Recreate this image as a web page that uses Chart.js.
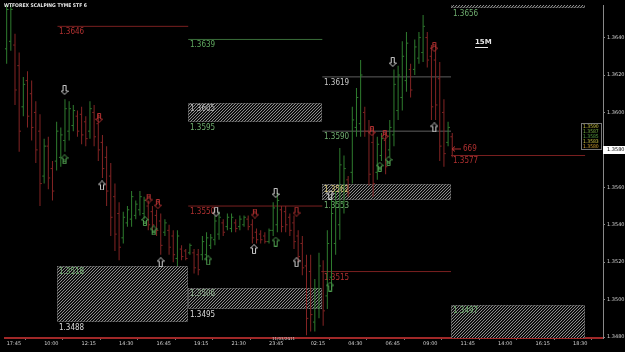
<!DOCTYPE html>
<html>
<head>
<meta charset="utf-8">
<script src="https://cdn.jsdelivr.net/npm/chart.js@4.4.1/dist/chart.umd.min.js"></script>
<style>
  html, body { margin: 0; padding: 0; background: #000; }
  #wrap { width: 625px; height: 352px; }
</style>
</head>
<body>
<div id="wrap"><canvas id="myChart" width="625" height="352"></canvas></div>
<script>
// 15분봉 OHLC
var highs = [1.3662,1.3660,1.3642,1.3632,1.3619,1.3622,1.3617,1.3606,1.3599,1.3586,
  1.3587,1.3574,1.3595,1.3592,1.3607,1.3606,1.3604,1.3601,1.3603,1.3598,
  1.3606,1.3604,1.3599,1.3588,1.3582,1.3573,1.3562,1.3552,1.3547,1.3550,
  1.3558,1.3553,1.3558,1.3555,1.3553,1.3550,1.3548,1.3546,1.3543,1.3540,
  1.3537,1.3537,1.3529,1.3527,1.3530,1.3527,1.3527,1.3534,1.3536,1.3535,
  1.3545,1.3547,1.3543,1.3546,1.3546,1.3543,1.3545,1.3545,1.3545,1.3543,
  1.3538,1.3537,1.3536,1.3538,1.3552,1.3557,1.3550,1.3550,1.3546,1.3545,
  1.3537,1.3534,1.3524,1.3524,1.3511,1.3525,1.3521,1.3537,1.3555,1.3558,
  1.3581,1.3577,1.3566,1.3603,1.3613,1.3628,1.3603,1.3596,1.3590,1.3587,
  1.3589,1.3589,1.3596,1.3623,1.3625,1.3638,1.3643,1.3626,1.3639,1.3643,
  1.3652,1.3643,1.3636,1.3636,1.3627,1.3607,1.3595,1.3589];
var lows = [1.3626,1.3633,1.3604,1.3579,1.3598,1.3592,1.3585,1.3573,1.3550,1.3562,
  1.3559,1.3553,1.3569,1.3571,1.3579,1.3585,1.3590,1.3587,1.3583,1.3582,
  1.3586,1.3582,1.3574,1.3565,1.3550,1.3534,1.3526,1.3521,1.3530,1.3539,
  1.3539,1.3543,1.3545,1.3543,1.3537,1.3537,1.3534,1.3524,1.3534,1.3524,
  1.3520,1.3518,1.3521,1.3521,1.3524,1.3514,1.3513,1.3521,1.3521,1.3527,
  1.3529,1.3532,1.3534,1.3537,1.3536,1.3536,1.3537,1.3539,1.3537,1.3530,
  1.3530,1.3530,1.3530,1.3530,1.3534,1.3536,1.3536,1.3536,1.3534,1.3527,
  1.3520,1.3513,1.3481,1.3483,1.3483,1.3490,1.3486,1.3495,1.3505,1.3524,
  1.3532,1.3546,1.3555,1.3562,1.3587,1.3587,1.3587,1.3561,1.3555,1.3564,
  1.3574,1.3567,1.3576,1.3582,1.3596,1.3601,1.3611,1.3608,1.3620,1.3626,
  1.3627,1.3624,1.3596,1.3596,1.3574,1.3571,1.3582,1.3576];
var opens = [1.3634,1.3638,1.3636,1.3625,1.3603,1.3617,1.3610,1.3600,1.3590,1.3566,
  1.3582,1.3570,1.3574,1.3576,1.3585,1.3590,1.3593,1.3598,1.3599,1.3595,
  1.3590,1.3600,1.3594,1.3584,1.3576,1.3566,1.3555,1.3546,1.3533,1.3541,
  1.3543,1.3545,1.3548,1.3546,1.3550,1.3547,1.3545,1.3542,1.3536,1.3537,
  1.3534,1.3522,1.3527,1.3526,1.3525,1.3525,1.3524,1.3524,1.3524,1.3529,
  1.3532,1.3535,1.3541,1.3539,1.3538,1.3541,1.3539,1.3540,1.3543,1.3540,
  1.3536,1.3535,1.3534,1.3531,1.3537,1.3540,1.3548,1.3547,1.3544,1.3541,
  1.3534,1.3530,1.3518,1.3515,1.3488,1.3496,1.3515,1.3502,1.3512,1.3530,
  1.3540,1.3552,1.3564,1.3568,1.3592,1.3594,1.3600,1.3590,1.3584,1.3568,
  1.3577,1.3585,1.3580,1.3588,1.3601,1.3608,1.3617,1.3623,1.3623,1.3629,
  1.3632,1.3640,1.3630,1.3628,1.3618,1.3600,1.3584,1.3587];
var closes = [1.3655,1.3655,1.3612,1.3590,1.3615,1.3598,1.3592,1.3580,1.3562,1.3582,
  1.3565,1.3558,1.3590,1.3588,1.3602,1.3602,1.3601,1.3590,1.3588,1.3586,
  1.3602,1.3587,1.3580,1.3570,1.3558,1.3544,1.3535,1.3528,1.3544,1.3548,
  1.3555,1.3551,1.3555,1.3553,1.3540,1.3540,1.3537,1.3529,1.3541,1.3528,
  1.3524,1.3534,1.3523,1.3522,1.3529,1.3517,1.3516,1.3531,1.3533,1.3533,
  1.3542,1.3544,1.3536,1.3544,1.3544,1.3538,1.3543,1.3544,1.3539,1.3533,
  1.3532,1.3532,1.3531,1.3537,1.3549,1.3553,1.3539,1.3540,1.3537,1.3531,
  1.3523,1.3517,1.3490,1.3492,1.3506,1.3518,1.3494,1.3530,1.3546,1.3552,
  1.3572,1.3570,1.3557,1.3596,1.3608,1.3620,1.3590,1.3567,1.3562,1.3583,
  1.3586,1.3571,1.3592,1.3615,1.3620,1.3630,1.3637,1.3612,1.3635,1.3640,
  1.3646,1.3628,1.3603,1.3604,1.3582,1.3578,1.3592,1.3580];

// 시간축 라벨
var timeTickIdx = [0, 9, 18, 27, 36, 45, 54, 63, 73, 82, 91, 100, 109, 118, 127, 136];
var timeLabels = ['17:45','10:00','12:15','14:30','16:45','19:15','21:30','23:45',
  '02:15','04:30','06:45','09:00','11:45','14:00','16:15','18:30'];

// 빗금 박스 (수급 존)
var zoneFrom = [12.2, 43.6, 43.6, 75.8, 106.7, 106.7];
var zoneTo   = [43.6, 75.8, 75.8, 106.7, 138.9, 138.9];
var zoneHi   = [1.3518, 1.3605, 1.3506, 1.3562, 1.3660, 1.3497];
var zoneLo   = [1.3488, 1.3595, 1.3495, 1.3553, 1.3656, 1.3478];
var zoneHiColor = ['#6fae6f', '#b8b8b8', '#8fb08f', '#d8c878', null, '#6fae6f'];
var zoneLoColor = ['#d8d8d8', '#6fae6f', '#d8d8d8', '#6fae6f', '#6fae6f', '#d8c060'];

// 수평 레벨선
var levelVal  = [1.3646, 1.3639, 1.3619, 1.3590, 1.3550, 1.3515, 1.3577];
var levelFrom = [12.2, 43.6, 75.8, 75.8, 43.6, 75.8, 106.7];
var levelTo   = [43.6, 75.8, 106.7, 106.7, 75.8, 106.7, 138.9];
var levelColor = ['#7a2020', '#3a6e3a', '#5e5e5e', '#5e5e5e', '#7a2020', '#7a2020', '#7a2020'];
var levelText  = ['#b03030', '#5fa85f', '#c8c8c8', '#6fae6f', '#b03030', '#b03030', '#b03030'];

// 화살표 신호
var arrowIdx   = [13.9, 13.9, 22.2, 22.9, 34.1, 36.3, 33.2, 35.3, 37.0, 50.3, 48.4, 59.6, 59.4,
  64.6, 64.6, 69.6, 69.6, 77.7, 77.7, 87.7, 90.8, 89.6, 91.7, 92.7, 102.7, 102.7];
var arrowPrice = [1.3612, 1.3575, 1.3597, 1.3561, 1.3554, 1.3551, 1.3542, 1.3537, 1.3520, 1.3547,
  1.3521, 1.3546, 1.3527, 1.3557, 1.3531, 1.3547, 1.3520, 1.3556, 1.3507, 1.3590, 1.3588, 1.3571,
  1.3574, 1.3627, 1.3635, 1.3592];
var arrowDir   = ['d','u','d','u','d','d','u','u','u','d','u','d','u','d','u','d','u','u','u','d','d','u','u','d','d','u'];
var arrowCol   = ['w','g','r','w','r','r','g','g','w','w','g','r','w','w','g','r','w','w','g','r','r','g','g','w','r','w'];
var arrowTxt   = ['','1','1','','2','7','0','8','','','','1','','','','','','','','1','2','8','5','','1',''];

// 오른쪽 작은 표
var panelRows = ['1.3590', '1.3587', '1.3585', '1.3583', '1.3580'];
var panelColors = ['#c8c040', '#78b040', '#58a040', '#c8c040', '#d0a030'];

var C_UP = '#2f7d2f', C_DN = '#842424';
var ARROW_COLORS = { w: '#d0d0d0', g: '#50a050', r: '#b03030' };

function makeArrow(dir, col, txt) {
    var c = document.createElement('canvas');
    c.width = 8; c.height = 10;
    var g = c.getContext('2d');
    var pts = [[4,0.5],[7.5,4],[5.5,4],[5.5,9.5],[2.5,9.5],[2.5,4],[0.5,4]];
    g.strokeStyle = ARROW_COLORS[col];
    g.lineWidth = 1;
    g.beginPath();
    pts.forEach(function (p, k) {
        var y = dir === 'd' ? 10 - p[1] : p[1];
        if (k === 0) g.moveTo(p[0], y); else g.lineTo(p[0], y);
    });
    g.closePath();
    g.stroke();
    if (txt) {
        g.fillStyle = ARROW_COLORS[col];
        g.font = 'bold 4px "DejaVu Sans"';
        g.textAlign = 'center';
        g.textBaseline = 'middle';
        g.fillText(txt, 4, dir === 'd' ? 3.5 : 6.5);
    }
    return c;
}

// 빗금 패턴
var hatch = (function () {
    var c = document.createElement('canvas');
    c.width = 3; c.height = 3;
    var g = c.getContext('2d');
    g.fillStyle = '#0c0c0c';
    g.fillRect(0, 0, 3, 3);
    g.fillStyle = '#8c8c8c';
    g.fillRect(2, 0, 1, 1);
    g.fillRect(1, 1, 1, 1);
    g.fillRect(0, 2, 1, 1);
    return c;
})();

var overlay = {
    id: 'overlay',
    beforeDatasetsDraw: function (chart) {
        var ctx = chart.ctx, xs = chart.scales.x, ys = chart.scales.y, a = chart.chartArea;
        ctx.save();
        ctx.beginPath();
        ctx.rect(a.left, a.top, a.right - a.left, a.bottom - a.top);
        ctx.clip();
        // 왼쪽 테두리
        ctx.fillStyle = '#444';
        ctx.fillRect(0, 0, 1, a.bottom);
        var pat = ctx.createPattern(hatch, 'repeat');
        ctx.font = '8px "DejaVu Sans Condensed", "DejaVu Sans"';
        ctx.textBaseline = 'top';
        for (var i = 0; i < zoneFrom.length; i++) {
            var x0 = Math.round(xs.getPixelForValue(zoneFrom[i]));
            var x1 = Math.round(xs.getPixelForValue(zoneTo[i]));
            var y0 = Math.round(ys.getPixelForValue(zoneHi[i]));
            var y1 = Math.round(ys.getPixelForValue(zoneLo[i]));
            ctx.fillStyle = pat;
            ctx.fillRect(x0, y0, x1 - x0, y1 - y0);
            ctx.strokeStyle = '#707070';
            ctx.setLineDash([1, 1]);
            ctx.strokeRect(x0 + 0.5, y0 + 0.5, x1 - x0 - 1, y1 - y0 - 1);
            ctx.setLineDash([]);
            if (zoneHiColor[i]) {
                ctx.fillStyle = zoneHiColor[i];
                ctx.fillText(zoneHi[i].toFixed(4), x0 + 2, y0 + 2);
            }
            ctx.fillStyle = zoneLoColor[i];
            ctx.fillText(zoneLo[i].toFixed(4), x0 + 2, y1 + 2);
        }
        for (var j = 0; j < levelVal.length; j++) {
            ctx.fillStyle = levelText[j];
            ctx.fillText(levelVal[j].toFixed(4), Math.round(xs.getPixelForValue(levelFrom[j])) + 2,
                Math.round(ys.getPixelForValue(levelVal[j])) + 2);
        }
        ctx.restore();
    },
    afterDraw: function (chart) {
        var ctx = chart.ctx, xs = chart.scales.x, ys = chart.scales.y, a = chart.chartArea;
        ctx.save();
        // 제목
        ctx.fillStyle = '#e8e8e8';
        ctx.font = 'bold 5px "DejaVu Sans Condensed", "DejaVu Sans"';
        ctx.textBaseline = 'top';
        ctx.fillText('WTFOREX SCALPING TYME STF 6', 4, 3);
        // 15M
        ctx.font = 'bold 7px "DejaVu Sans"';
        ctx.fillText('15M', 475, 39);
        ctx.fillRect(475, 47, 13, 1);
        // 669 화살표
        var yl = ys.getPixelForValue(levelVal[6]);
        var xl = xs.getPixelForValue(levelFrom[6]);
        ctx.strokeStyle = '#b03030';
        ctx.fillStyle = '#b03030';
        ctx.beginPath();
        ctx.moveTo(xl + 1, yl - 6.5); ctx.lineTo(xl + 10, yl - 6.5);
        ctx.moveTo(xl + 4, yl - 9); ctx.lineTo(xl + 1, yl - 6.5); ctx.lineTo(xl + 4, yl - 4);
        ctx.stroke();
        ctx.font = '8px "DejaVu Sans Condensed", "DejaVu Sans"';
        ctx.fillText('669', xl + 12, yl - 11);
        // 오른쪽 작은 표
        ctx.font = '5px "DejaVu Sans Condensed", "DejaVu Sans"';
        panelRows.forEach(function (t, k) {
            ctx.fillStyle = panelColors[k];
            ctx.fillText(t, a.right - 20, 124 + k * 5);
        });
        ctx.strokeStyle = '#777';
        ctx.strokeRect(a.right - 21.5, 123.5, 20, 26);
        // 날짜
        ctx.fillStyle = '#cfcfcf';
        ctx.font = '4px "DejaVu Sans"';
        ctx.fillText('11/03/2011', 272, a.bottom - 1);
        // 현재가 박스
        var last = closes[closes.length - 1];
        var yp = Math.round(ys.getPixelForValue(last));
        ctx.fillStyle = '#ffffff';
        ctx.fillRect(a.right, yp - 4, 22, 8);
        ctx.fillStyle = '#000000';
        ctx.font = '5px "DejaVu Sans"';
        ctx.textBaseline = 'middle';
        ctx.fillText(last.toFixed(4), a.right + 4, yp);
        ctx.restore();
    }
};

var arrowImgs = arrowDir.map(function (d, i) { return makeArrow(d, arrowCol[i], arrowTxt[i]); });
var barColors = closes.map(function (c, i) { return c >= opens[i] ? C_UP : C_DN; });

var datasets = [];
// 고가-저가 막대
datasets.push({
    type: 'bar',
    data: highs.map(function (h, i) { return { x: i, y: [lows[i], h] }; }),
    backgroundColor: barColors,
    barThickness: 1,
    inflateAmount: 0,
    grouped: false,
    order: 2
});
// 시가/종가 틱
datasets.push({
    type: 'scatter',
    data: opens.map(function (o, i) { return { x: i - 0.25, y: o }; }),
    pointStyle: 'line',
    pointRadius: 0.8,
    borderWidth: 1,
    borderColor: barColors,
    order: 1
});
datasets.push({
    type: 'scatter',
    data: closes.map(function (c, i) { return { x: i + 0.25, y: c }; }),
    pointStyle: 'line',
    pointRadius: 0.8,
    borderWidth: 1,
    borderColor: barColors,
    order: 1
});
// 레벨선
levelVal.forEach(function (v, i) {
    datasets.push({
        type: 'line',
        data: [{ x: levelFrom[i], y: v }, { x: levelTo[i], y: v }],
        borderColor: levelColor[i],
        borderWidth: 1,
        pointRadius: 0,
        order: 3
    });
});
// 화살표
datasets.push({
    type: 'scatter',
    data: arrowIdx.map(function (x, i) { return { x: x, y: arrowPrice[i] }; }),
    pointStyle: arrowImgs,
    order: 0
});

var ctx = document.getElementById('myChart');
var myChart = new Chart(ctx, {
    type: 'bar',
    data: { datasets: datasets },
    options: {
        responsive: false,
        animation: false,
        events: [],
        layout: { padding: 0 },
        plugins: { legend: { display: false }, tooltip: { enabled: false } },
        scales: {
            x: {
                type: 'linear',
                min: -0.4,
                max: 143.2,
                offset: false,
                grid: { display: true, drawOnChartArea: false, drawTicks: true, tickLength: 2, color: '#777' },
                border: { display: true, color: '#a02828', width: 2, dash: [1, 1] },
                afterBuildTicks: function (scale) {
                    scale.ticks = timeTickIdx.map(function (v) { return { value: v }; });
                },
                afterFit: function (scale) {
                    scale.height = 14;
                    scale.paddingLeft = 0;
                    scale.paddingRight = 0;
                },
                ticks: {
                    autoSkip: false,
                    maxRotation: 0,
                    align: 'start',
                    padding: 1,
                    color: '#d0d0d0',
                    font: { size: 5, family: 'DejaVu Sans' },
                    callback: function (v) { return timeLabels[timeTickIdx.indexOf(v)]; }
                }
            },
            y: {
                position: 'right',
                min: 1.34795,
                max: 1.36574,
                grid: { display: true, drawOnChartArea: false, drawTicks: true, tickLength: 2, color: '#888' },
                border: { display: true, color: '#888', width: 1 },
                afterFit: function (scale) {
                    scale.width = 22;
                    scale.paddingTop = 0;
                    scale.paddingBottom = 0;
                },
                ticks: {
                    stepSize: 0.002,
                    includeBounds: false,
                    padding: 2,
                    color: '#d0d0d0',
                    font: { size: 5, family: 'DejaVu Sans' },
                    callback: function (v) { return v.toFixed(4); }
                }
            }
        }
    },
    plugins: [overlay]
});
</script>
</body>
</html>
